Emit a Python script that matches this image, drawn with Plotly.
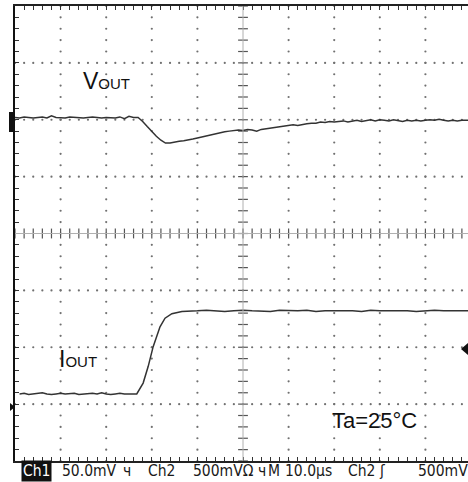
import numpy as np
import plotly.graph_objects as go

# ---------------- data (time in µs, amplitude in screen divisions) ----------------
vout_t = list(range(0, 28)) + [28, 29, 30, 31, 32, 33, 34, 35, 36, 37, 38, 39, 40, 41, 42, 43, 44, 45,
                               46, 47, 48, 49, 50, 51, 52, 53, 54, 55, 56, 57, 58, 59, 60, 61, 62, 63,
                               64, 65, 66, 67, 68, 69, 70, 71, 72, 73, 74, 75, 76, 77, 78, 79, 80, 81,
                               82, 83, 84, 85, 86, 87, 88, 89, 90, 91, 92, 93, 94, 95, 96, 97, 98, 99, 99.4]
vout_y = [2.04, 2.03, 2.05, 2.04, 2.03, 2.04, 2.05, 2.03, 2.07, 2.04, 2.04, 2.03, 2.05, 2.04,
          2.04, 2.03, 2.04, 2.05, 2.04, 2.03, 2.04, 2.04, 2.03, 2.05, 2.02, 2.06, 2.04, 2.04,
          1.97, 1.88, 1.79, 1.71, 1.64, 1.59, 1.59, 1.61, 1.62, 1.63, 1.64, 1.66, 1.68, 1.70,
          1.72, 1.73, 1.75, 1.77, 1.79, 1.80, 1.81, 1.82, 1.81, 1.83, 1.82, 1.80, 1.83, 1.84,
          1.85, 1.86, 1.87, 1.88, 1.89, 1.91, 1.90, 1.92, 1.93, 1.94, 1.94, 1.96, 1.95, 1.97,
          1.96, 1.97, 1.98, 1.96, 1.98, 1.99, 1.97, 1.99, 2.00, 1.98, 2.00, 1.99, 1.98, 2.00,
          1.99, 1.97, 1.99, 1.98, 1.99, 1.98, 1.99, 2.00, 1.99, 2.01, 1.99, 1.98, 1.99, 1.98,
          1.99, 1.99, 1.99]

# IOUT: baseline, step edge, settled level
iout_t_base = list(range(1, 27))
iout_y_base = [-2.82, -2.81, -2.83, -2.82, -2.82, -2.80, -2.82, -2.83, -2.82, -2.81, -2.82, -2.82, -2.81,
               -2.83, -2.82, -2.82, -2.81, -2.82, -2.80, -2.82, -2.83, -2.82, -2.81, -2.82, -2.82, -2.83]
iout_t_edge = [26.7, 28.1, 29.2, 30.3, 31.1, 31.8, 32.9, 34.4, 36.6]
iout_y_edge = [-2.82, -2.63, -2.34, -1.99, -1.81, -1.64, -1.49, -1.41, -1.37]
iout_t_top = [38, 40, 42, 44, 46, 48, 50, 52,
              54, 56, 58, 60, 62, 64, 66, 68,
              70, 72, 74, 76, 78, 80, 82, 84,
              86, 88, 90, 92, 94, 96, 98, 99.4]
iout_y_top = [-1.37, -1.36, -1.35, -1.36, -1.37, -1.36, -1.35, -1.36,
              -1.36, -1.37, -1.35, -1.36, -1.36, -1.35, -1.37, -1.36,
              -1.36, -1.35, -1.36, -1.37, -1.35, -1.36, -1.36, -1.35,
              -1.36, -1.37, -1.36, -1.35, -1.36, -1.36, -1.35, -1.36]
iout_t = iout_t_base + iout_t_edge + iout_t_top
iout_y = iout_y_base + iout_y_edge + iout_y_top

labels = {"vout": "V<span style='font-size:15px'>OUT</span>",
          "iout": "I<span style='font-size:15px'>OUT</span>",
          "temp": "Ta=25°C"}
readout = [("50.0mV", 60), ("ч", 121), ("Ch2", 146), ("500mVΩ", 191), ("ч", 256), ("M", 266),
           ("10.0µs", 283), ("Ch2", 346), ("ʃ", 377), ("500mV", 416)]

# ---------------- geometry ----------------
W, H = 468, 482
L, R, T, B = 15, 0, 6, 21
XMAX = 99.34
pw, ph = W - L - R, H - T - B


def px(x):
    return (x - L) / pw


def py(y):
    return (H - B - y) / ph


fig = go.Figure()

# dotted graticule
gx, gy = [], []
for xv in range(10, 100, 10):
    if xv == 50:
        continue
    for yv in np.arange(-4, 4.01, 0.2):
        gx.append(xv); gy.append(yv)
for yv in range(-3, 4):
    if yv == 0:
        continue
    for xv in np.arange(0, 100.1, 2):
        gx.append(xv); gy.append(yv)
fig.add_trace(go.Scatter(x=gx, y=gy, mode="markers", hoverinfo="skip",
                         marker=dict(size=2.2, color="#707070", line=dict(width=0))))

# center crosshair with ticks
fig.add_shape(type="line", x0=50, x1=50, y0=-4, y1=4, line=dict(color="#b0b0b0", width=1))
fig.add_shape(type="line", x0=0, x1=XMAX, y0=0, y1=0, line=dict(color="#b0b0b0", width=1))
cx = [50] * 41
cy = list(np.arange(-4, 4.01, 0.2))
fig.add_trace(go.Scatter(x=cx, y=cy, mode="markers", hoverinfo="skip",
                         marker=dict(symbol="line-ew", size=7, line=dict(color="#555", width=1.2))))
hx = list(np.arange(0, 100.1, 2))
fig.add_trace(go.Scatter(x=hx, y=[0] * len(hx), mode="markers", hoverinfo="skip",
                         marker=dict(symbol="line-ns", size=7, line=dict(color="#555", width=1.2))))

# waveforms
fig.add_trace(go.Scatter(x=vout_t, y=vout_y, mode="lines", line=dict(color="#333", width=1.5),
                         name="VOUT"))
fig.add_trace(go.Scatter(x=iout_t, y=iout_y, mode="lines", line=dict(color="#333", width=1.5),
                         name="IOUT"))

# channel / trigger markers
fig.add_shape(type="rect", xref="paper", yref="paper", x0=px(9), x1=px(15), y0=py(132), y1=py(112),
              fillcolor="#111", line=dict(width=0))
fig.add_shape(type="path", xref="paper", yref="paper",
              path=f"M {px(10)} {py(403)} L {px(15)} {py(407)} L {px(10)} {py(411)} Z",
              fillcolor="#111", line=dict(width=0))
fig.add_shape(type="path", xref="paper", yref="paper",
              path=f"M {px(461)} {py(349)} L {px(468)} {py(343)} L {px(468)} {py(355)} Z",
              fillcolor="#111", line=dict(width=0))

ann = []
ann.append(dict(text=labels["vout"], x=px(81), y=py(81), xanchor="left", yanchor="middle",
                font=dict(family="Liberation Sans, Arial", size=23, color="#111")))
ann.append(dict(text=labels["iout"], x=px(57), y=py(359), xanchor="left", yanchor="middle",
                font=dict(family="Liberation Sans, Arial", size=23, color="#111")))
ann.append(dict(text=labels["temp"], x=px(330), y=py(420), xanchor="left", yanchor="middle",
                font=dict(family="Liberation Sans, Arial", size=22, color="#111")))
rfont = dict(family="DejaVu Sans Condensed, Liberation Sans Narrow, DejaVu Sans", size=15.5,
             color="#1a1a1a")
ann.append(dict(text="Ch1", x=px(20.5), y=py(471), xanchor="left", yanchor="middle",
                bgcolor="#111", borderpad=1, font=dict(rfont, color="white")))
for txt, xp in readout:
    ann.append(dict(text=txt, x=px(xp), y=py(471), xanchor="left", yanchor="middle", font=rfont))
for a in ann:
    a.update(xref="paper", yref="paper", showarrow=False)

fig.update_layout(
    width=W, height=H, margin=dict(l=L, r=R, t=T, b=B, pad=0),
    paper_bgcolor="white", plot_bgcolor="white", showlegend=False,
    annotations=ann,
    xaxis=dict(range=[0, XMAX], showgrid=False, zeroline=False, showticklabels=False,
               ticks="inside", tick0=0, dtick=2, ticklen=4, tickcolor="#333", tickwidth=1,
               showline=True, linecolor="#222", linewidth=2, mirror="ticks"),
    yaxis=dict(range=[-4, 4], showgrid=False, zeroline=False, showticklabels=False,
               ticks="inside", tick0=0, dtick=0.2, ticklen=4, tickcolor="#333", tickwidth=1,
               showline=True, linecolor="#111", linewidth=2, mirror=False),
)
fig.write_html("out.html", config={"displayModeBar": False},
               post_script="document.body.style.margin='0';document.body.style.overflow='hidden';")
